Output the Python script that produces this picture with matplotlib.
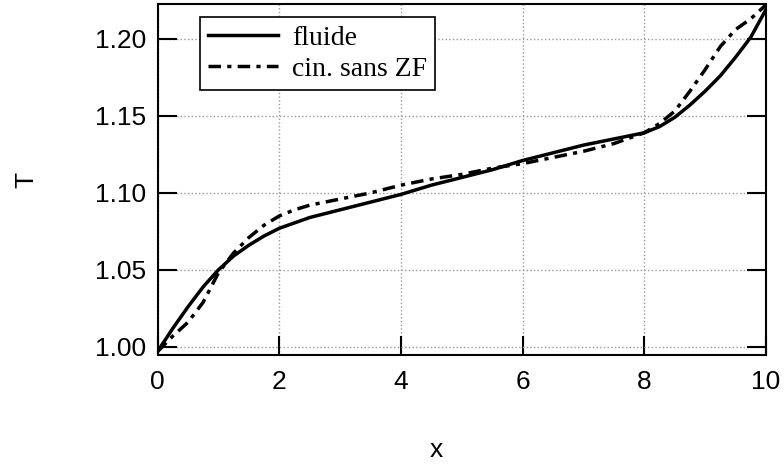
import matplotlib
matplotlib.use("Agg")
import matplotlib.pyplot as plt

# valeurs
x_fluide = [0, 0.25, 0.5, 0.75, 1.0, 1.25, 1.5, 1.75, 2.0, 2.5, 3.0, 3.5, 4.0, 4.5,
            5.0, 5.5, 6.0, 6.5, 7.0, 7.5, 8.0, 8.25, 8.5, 8.75, 9.0, 9.25, 9.5, 9.75, 10.0]
T_fluide = [0.997, 1.012, 1.026, 1.039, 1.050, 1.059, 1.066, 1.072, 1.077, 1.084,
            1.089, 1.094, 1.099, 1.105, 1.110, 1.115, 1.121, 1.126, 1.131, 1.135,
            1.139, 1.143, 1.149, 1.157, 1.166, 1.176, 1.188, 1.201, 1.219]

x_cin = [0, 0.25, 0.5, 0.75, 1.0, 1.25, 1.5, 1.75, 2.0, 2.25, 2.5, 3.0, 3.5, 4.0, 4.5,
         5.0, 5.5, 6.0, 6.5, 7.0, 7.5, 8.0, 8.25, 8.5, 8.75, 9.0, 9.25, 9.5, 9.75, 10.0]
T_cin = [0.997, 1.007, 1.016, 1.029, 1.048, 1.061, 1.071, 1.079, 1.085, 1.089,
         1.092, 1.096, 1.100, 1.105, 1.109, 1.112, 1.116, 1.119, 1.123, 1.127,
         1.132, 1.139, 1.145, 1.153, 1.166, 1.180, 1.195, 1.206, 1.213, 1.222]

xticks = [0, 2, 4, 6, 8, 10]
yticks = [1.00, 1.05, 1.10, 1.15, 1.20]
ytick_labels = ["1.00", "1.05", "1.10", "1.15", "1.20"]

plt.rcParams['font.family'] = ['Liberation Sans', 'DejaVu Sans']

fig = plt.figure(figsize=(7.84, 4.68), dpi=100)
ax = fig.add_axes([0.2009, 0.2415, 0.7761, 0.75])

ax.plot(x_fluide, T_fluide, color='black', lw=2.5, label='fluide')
ax.plot(x_cin, T_cin, color='black', lw=2.5, dashes=[3.6, 1.8, 1.2, 1.8],
        label='cin. sans ZF')

ax.set_xlim(0, 10)
ax.set_ylim(0.9948, 1.2226)
ax.set_xticks(xticks)
ax.set_yticks(yticks)
ax.set_yticklabels(ytick_labels)

ax.grid(True, color='#999999', linestyle=':', linewidth=1.0)
ax.set_axisbelow(True)
ax.tick_params(direction='in', length=14, width=1.5, labelsize=19,
               left=True, right=True, top=False, bottom=True)
ax.tick_params(axis='y', pad=8)
ax.tick_params(axis='x', pad=11)
for s in ax.spines.values():
    s.set_linewidth(1.5)

ax.set_xlabel('x', fontsize=19)
ax.set_ylabel('T', fontsize=19)
ax.xaxis.set_label_coords(0.459, -0.236)
ax.yaxis.set_label_coords(-0.196, 0.5)

leg = ax.legend(loc='upper left', bbox_to_anchor=(0.07, 0.963),
                prop={'family': 'Liberation Serif', 'size': 20},
                handlelength=2.5, fancybox=False, framealpha=1,
                edgecolor='black', borderaxespad=0, borderpad=0.3,
                labelspacing=0.2, handletextpad=0.5)
leg.get_frame().set_linewidth(1.2)

fig.savefig('out.png', dpi=100)
